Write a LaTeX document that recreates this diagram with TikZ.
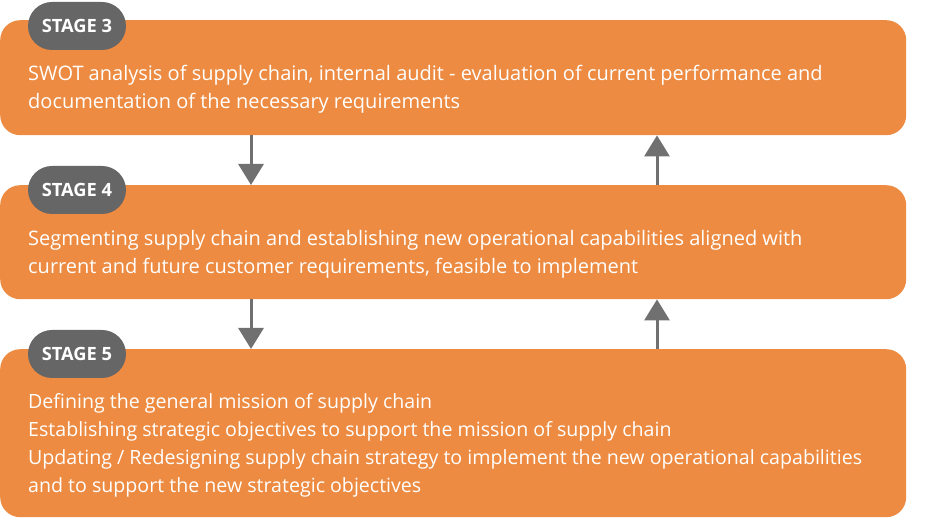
\documentclass[tikz,border=0pt]{standalone}
\usepackage{fontspec}
\setmainfont{Open Sans}
\usetikzlibrary{arrows.meta}
\definecolor{boxorange}{HTML}{EC8B41}
\definecolor{pillgray}{HTML}{666666}
\definecolor{arrgray}{HTML}{707070}
\begin{document}
\begin{tikzpicture}[x=1pt,y=-1pt,
  stagebox/.style={draw=none,fill=boxorange,rounded corners=20pt,minimum width=906pt,inner sep=0pt,anchor=north west},
  pill/.style={fill=pillgray,rounded corners=24pt,minimum width=98pt,minimum height=48pt,inner sep=0pt,text=white,font=\fontsize{18.3}{20}\selectfont\bfseries},
  body/.style={anchor=north west,inner sep=0pt,align=left,text=white,font=\fontsize{20}{28}\selectfont},
  arr/.style={draw=arrgray,line width=3pt,-{Triangle[width=25pt,length=21pt]}}]
\useasboundingbox (0,0) rectangle (930,518);
\node[stagebox,minimum height=115pt] (b1) at (0,20) {};
\node[stagebox,minimum height=114pt] (b2) at (0,185) {};
\node[stagebox,minimum height=168pt] (b3) at (0,349) {};
\node[pill] (p1) at (77,26) {STAGE 3};
\node[pill] (p2) at (77,190) {STAGE 4};
\node[pill] (p3) at (77,354) {STAGE 5};
\node[body] (t1) at (28,65) {SWOT analysis of supply chain, internal audit - evaluation of current performance and\\documentation of the necessary requirements};
\node[body] (t2) at (28,230) {Segmenting supply chain and establishing new operational capabilities aligned with\\current and future customer requirements, feasible to implement};
\node[body,font=\fontsize{19.6}{27.8}\selectfont] (t3) at (28,393.5) {Defining the general mission of supply chain\\Establishing strategic objectives to support the mission of supply chain\\Updating / Redesigning supply chain strategy to implement the new operational capabilities\\and to support the new strategic objectives};
\coordinate (dl) at (251,0);
\coordinate (ul) at (657,0);
\draw[arr] (b1.south -| dl) -- (b2.north -| dl);
\draw[arr] (b2.north -| ul) -- (b1.south -| ul);
\draw[arr] (b2.south -| dl) -- (b3.north -| dl);
\draw[arr] (b3.north -| ul) -- (b2.south -| ul);
\end{tikzpicture}
\end{document}
